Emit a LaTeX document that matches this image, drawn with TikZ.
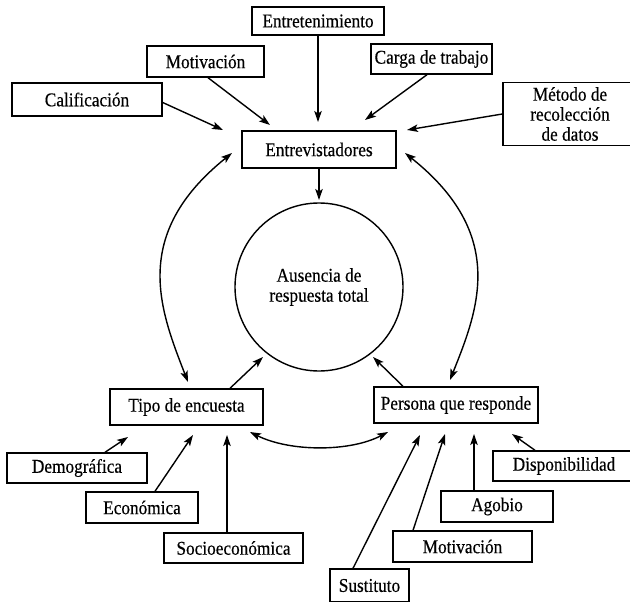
\documentclass[tikz,border=0pt]{standalone}
\usepackage{fontspec}
\setmainfont{Liberation Serif}[FakeStretch=0.885, FakeBold=0.4]
\usetikzlibrary{arrows.meta,calc,shadows}
\begin{document}
\begin{tikzpicture}[x=1pt,y=-1pt,
  box/.style={draw, line width=1.4pt, fill=white, inner sep=0pt, align=center,
    font=\fontsize{19.5}{20}\selectfont,
    drop shadow={shadow xshift=0.9pt, shadow yshift=-0.9pt, opacity=1, fill=black}},
  tip/.tip={Stealth[length=11pt,width=7.5pt,inset=2.5pt]},
  arr/.style={-tip, line width=1.4pt},
  arrboth/.style={tip-tip, line width=1.4pt}]
\useasboundingbox (0,0) rectangle (630,602);

% boxes around the interviewers
\node[box, minimum width=132pt, minimum height=28pt] (ent)    at (318,21)    {Entretenimiento};
\node[box, minimum width=117pt, minimum height=31pt] (motA)   at (205.5,61.5) {Motivación};
\node[box, minimum width=121pt, minimum height=30pt] (carga)  at (431.5,59)  {Carga de trabajo};
\node[box, minimum width=150pt, minimum height=33pt] (calif)  at (87,99.5)   {Calificación};
\node[box, minimum width=134pt, minimum height=63pt] (metodo) at (570,114)   {Método de\\recolección\\de datos};
\node[box, minimum width=154pt, minimum height=37pt] (entrev) at (319,149.5) {Entrevistadores};

% central outcome
\node[draw, circle, line width=1.4pt, minimum size=168pt, inner sep=0pt, align=center,
      font=\fontsize{19.5}{20}\selectfont] (circ) at (319,287) {Ausencia de\\respuesta total};

% survey type and respondent
\node[box, minimum width=153pt, minimum height=36pt] (tipo)    at (186.5,407) {Tipo de encuesta};
\node[box, minimum width=164pt, minimum height=36pt] (persona) at (456,405)   {Persona que responde};

\node[box, minimum width=140pt, minimum height=30pt] (demog)  at (77,468)     {Demográfica};
\node[box, minimum width=112pt, minimum height=31pt] (econ)   at (142,507.5)  {Económica};
\node[box, minimum width=139pt, minimum height=30pt] (socio)  at (233.5,548)  {Socioeconómica};

\node[box, minimum width=142pt, minimum height=30pt] (dispon) at (564,466)    {Disponibilidad};
\node[box, minimum width=112pt, minimum height=31pt] (agobio) at (497,506.5)  {Agobio};
\node[box, minimum width=139pt, minimum height=31pt] (motB)   at (462.5,546.5) {Motivación};
\node[box, minimum width=79pt,  minimum height=33pt] (sust)   at (369.5,585.5) {Sustituto};

% arrow tips
\coordinate (tCalif)  at (223,130);
\coordinate (tMotA)   at (270,125);
\coordinate (tEnt)    at (318,122);
\coordinate (tCarga)  at (365,120);
\coordinate (tMetodo) at (407,130);
\coordinate (tCirc)   at (319,200);
\coordinate (arcLtop) at (232,153);
\coordinate (arcLbot) at (188,382);
\coordinate (arcRtop) at (405,153);
\coordinate (arcRbot) at (450,380);
\coordinate (tTipoC)  at (263,357);
\coordinate (tPersC)  at (373,357);
\coordinate (sagL)    at (250,432);
\coordinate (sagR)    at (388,432);
\coordinate (tDemog)  at (128,437);
\coordinate (tEcon)   at (193,435);
\coordinate (tSocio)  at (227,435);
\coordinate (tSust)   at (420,435);
\coordinate (tMotB)   at (445,434);
\coordinate (tAgobio) at (474,434);
\coordinate (tDispon) at (512,434);

% influences on the interviewers
\draw[arr] ($(calif.east)+(0,3)$) -- (tCalif);
\draw[arr] ($(motA.south)+(2.5,0)$) -- (tMotA);
\draw[arr] (ent.south) -- (tEnt);
\draw[arr] ($(carga.south)+(-4.5,0)$) -- (tCarga);
\draw[arr] (metodo.west) -- (tMetodo);
\draw[arr] (entrev.south) -- (tCirc);

% two-way links with the interviewers
\draw[arrboth] (arcLbot) .. controls (160,310) and (130,235) .. (arcLtop);
\draw[arrboth] (arcRbot) .. controls (478,310) and (508,235) .. (arcRtop);

% into the outcome
\draw[arr] ($(tipo.north)+(43.5,0)$) -- (tTipoC);
\draw[arr] ($(persona.north)+(-53,0)$) -- (tPersC);

% survey type <-> respondent
\draw[arrboth] (sagL) .. controls (290,452) and (350,452) .. (sagR);

% kinds of survey
\draw[arr] ($(demog.north)+(28,0)$) -- (tDemog);
\draw[arr] ($(econ.north)+(13,0)$) -- (tEcon);
\draw[arr] ($(socio.north)+(-6.5,0)$) -- (tSocio);

% respondent factors
\draw[arr] ($(sust.north)+(-16.5,0)$) -- (tSust);
\draw[arr] ($(motB.north)+(-49.5,0)$) -- (tMotB);
\draw[arr] ($(agobio.north)+(-23,0)$) -- (tAgobio);
\draw[arr] ($(dispon.north)+(-29,0)$) -- (tDispon);
\end{tikzpicture}
\end{document}
